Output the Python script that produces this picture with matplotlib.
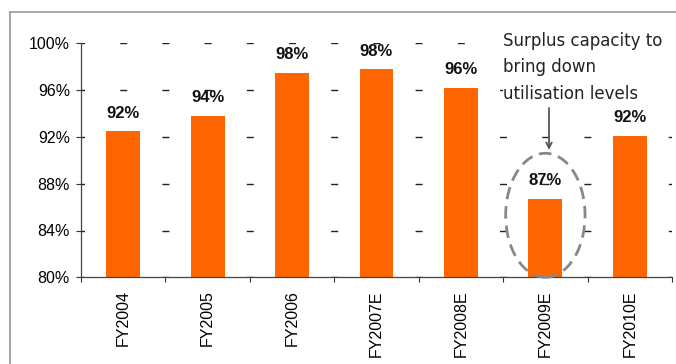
import matplotlib
matplotlib.use("Agg")
import matplotlib.pyplot as plt
from matplotlib.patches import Ellipse, Rectangle
from matplotlib.lines import Line2D

# Capacity utilisation by fiscal year
years = ["FY2004", "FY2005", "FY2006", "FY2007E", "FY2008E", "FY2009E", "FY2010E"]
utilisation = [92.5, 93.8, 97.5, 97.8, 96.2, 86.7, 92.1]
bar_labels = ["92%", "94%", "98%", "98%", "96%", "87%", "92%"]
y_ticks = [80, 84, 88, 92, 96, 100]

plt.rcParams['font.family'] = ['Liberation Sans', 'DejaVu Sans']
plt.rcParams['lines.scale_dashes'] = False

px = 72 / 100  # points per pixel at dpi 100

fig = plt.figure(figsize=(6.76, 3.64), dpi=100)
ax = fig.add_axes([81 / 676, 1 - 277.3 / 364, 591 / 676, 234 / 364])

x = list(range(len(years)))
ax.bar(x, utilisation, width=0.4, color='#ff6600', zorder=2)

for i in x:
    ax.annotate(bar_labels[i], (i, utilisation[i]), xytext=(0, 18 * px),
                textcoords='offset points', ha='center', va='center',
                fontsize=12, fontweight='bold', color='#111111')

ax.set_xlim(-0.5, len(years) - 0.5)
ax.set_ylim(80, 100)
ax.set_yticks(y_ticks)
ax.set_yticklabels([str(v) + "%" for v in y_ticks], fontsize=11.5)

# category labels sit between boundary ticks
ax.set_xticks([i + 0.5 for i in range(-1, len(years))])
ax.set_xticklabels([])
ax.set_xticks(x, minor=True)
ax.set_xticklabels(years, minor=True, rotation=90, fontsize=11.5, va='top')
ax.tick_params(axis='x', which='minor', length=0, pad=13 * px)
ax.tick_params(axis='x', which='major', direction='out', length=5 * px, width=0.8, color='#333333')
ax.tick_params(axis='y', direction='out', length=5 * px, width=0.8, color='#333333', pad=6 * px)

for side in ['top', 'right']:
    ax.spines[side].set_visible(False)
for side in ['left', 'bottom']:
    ax.spines[side].set_color('#444444')
    ax.spines[side].set_linewidth(0.9)

# short-dash grid, dashes at bar centres and category boundaries
ax.yaxis.grid(True, color='#222222', linewidth=1.0,
              linestyle=(3.5 * px, (7 * px, 35.2 * px)), zorder=0)
ax.set_axisbelow(True)

# highlight FY2009E
ell = Ellipse((5, 85.3), 0.94, 10.6, fill=False, edgecolor='#888888',
              linewidth=2.0, linestyle=(0, (9, 5)), clip_on=False, zorder=3)
ax.add_patch(ell)

# white box behind the callout text hides the grid dashes
fig.add_artist(Rectangle((492 / 676, 1 - 75 / 364), 184 / 676, 50 / 364,
                         transform=fig.transFigure, facecolor='white', edgecolor='none'))
fig.add_artist(Rectangle((503 / 676, 1 - 102 / 364), 173 / 676, 30 / 364,
                         transform=fig.transFigure, facecolor='white', edgecolor='none'))

ax.annotate("", xy=(549 / 676, 1 - 150 / 364), xytext=(549 / 676, 1 - 108 / 364),
            xycoords='figure fraction', textcoords='figure fraction',
            arrowprops=dict(arrowstyle='->', color='#555555', lw=1.3,
                            mutation_scale=10, shrinkA=0, shrinkB=0))
fig.text(503 / 676, 1 - 32 / 364, "Surplus capacity to\nbring down\nutilisation levels",
         fontsize=12, family='DejaVu Sans', color='#222222', va='top', ha='left',
         linespacing=1.6)

# outer frame of the slide box
fig.add_artist(Line2D([10 / 676, 10 / 676], [0, 1 - 12 / 364], transform=fig.transFigure,
                      color='#a0a0a0', linewidth=1.3))
fig.add_artist(Line2D([10 / 676, 1], [1 - 12 / 364, 1 - 12 / 364], transform=fig.transFigure,
                      color='#a0a0a0', linewidth=1.3))

fig.savefig("out.png", dpi=100)
